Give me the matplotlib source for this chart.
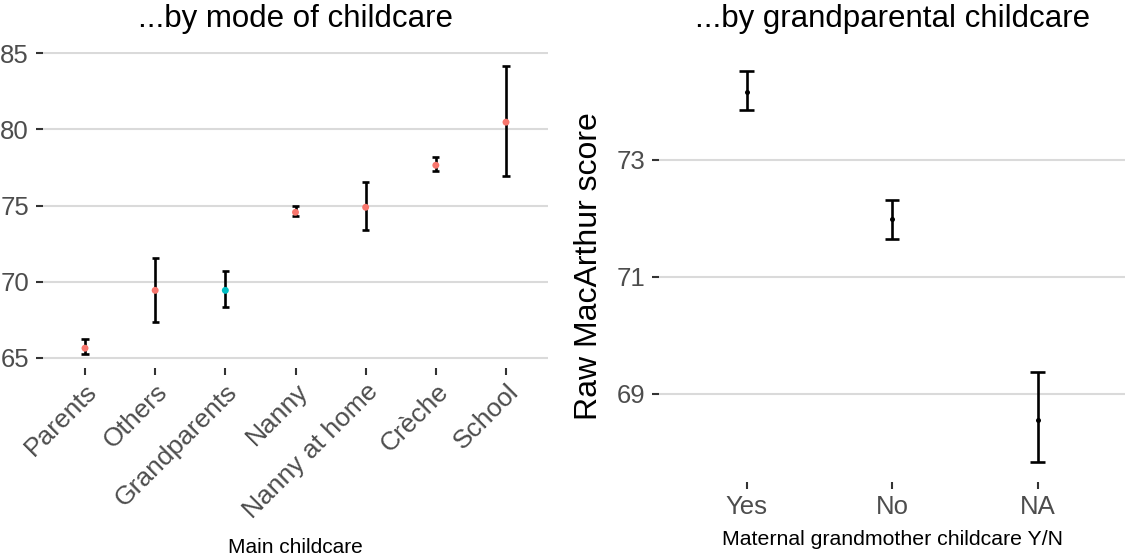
import matplotlib
matplotlib.use('Agg')
import matplotlib.pyplot as plt
import numpy as np

plt.rcParams['font.family'] = ['Liberation Sans', 'DejaVu Sans']

# ---- data: left panel (main childcare) ----
care_modes = ['Parents', 'Others', 'Grandparents', 'Nanny', 'Nanny at home', 'Crèche', 'School']
care_mean = [65.63, 69.43, 69.43, 74.56, 74.89, 77.65, 80.48]
care_low = [65.26, 67.37, 68.31, 74.30, 73.42, 77.30, 76.97]
care_high = [66.22, 71.58, 70.70, 74.97, 76.58, 78.18, 84.16]
care_is_grandparent = [False, False, True, False, False, False, False]
care_yticks = [65, 70, 75, 80, 85]

# ---- data: right panel (maternal grandmother childcare) ----
gm_levels = ['Yes', 'No', 'NA']
gm_mean = [74.17, 71.98, 68.55]
gm_low = [73.85, 71.65, 67.82]
gm_high = [74.53, 72.32, 69.37]
gm_yticks = [69, 71, 73]

RED = '#F8766D'
CYAN = '#00BFC4'
GRID = '#DADADA'
TICKC = '#333333'
LABC = '#4D4D4D'
CAP_W = 0.1  # errorbar cap width in category units

fig = plt.figure(figsize=(11.25, 5.56), dpi=100)
W, H = 1125, 556


def px_axes(l, t, r, b):
    return fig.add_axes([l / W, 1 - b / H, (r - l) / W, (b - t) / H])


ax1 = px_axes(42.9, 51.8, 548.1, 368.2)
ax2 = px_axes(659.4, 51.0, 1125.0, 482.0)


def style(ax, yticks, lo, hi, n):
    pad = 0.05 * (hi - lo)
    ax.set_ylim(lo - pad, hi + pad)
    ax.set_xlim(0.4, n + 0.6)
    ax.set_yticks(yticks)
    ax.set_xticks(np.arange(1, n + 1))
    for s in ax.spines.values():
        s.set_visible(False)
    ax.yaxis.grid(True, color=GRID, lw=1.5)
    ax.xaxis.grid(False)
    ax.set_axisbelow(True)
    ax.tick_params(axis='both', length=5, width=1.5, color=TICKC,
                   labelcolor=LABC, labelsize=18.5)
    ax.tick_params(axis='y', pad=5)


def errbars(ax, x, low, high, lw=1.9):
    ax.vlines(x, low, high, color='black', lw=lw, zorder=2)
    ax.hlines(low, x - CAP_W / 2, x + CAP_W / 2, color='black', lw=lw, zorder=2)
    ax.hlines(high, x - CAP_W / 2, x + CAP_W / 2, color='black', lw=lw, zorder=2)


# left panel
n1 = len(care_modes)
x1 = np.arange(1, n1 + 1)
errbars(ax1, x1, care_low, care_high)
cols = [CYAN if g else RED for g in care_is_grandparent]
ax1.scatter(x1, care_mean, s=25, c=cols, zorder=3, linewidths=0)
style(ax1, care_yticks, min(care_low), max(care_high), n1)
ax1.tick_params(axis='x', pad=3)
ax1.set_xticklabels(care_modes, rotation=45, ha='right', va='top',
                    rotation_mode='anchor', fontsize=19)
ax1.set_title('...by mode of childcare', fontsize=22.5, pad=17.5)
ax1.set_xlabel('Main childcare', fontsize=15)
ax1.xaxis.set_label_coords(0.5, -0.537)

# right panel
n2 = len(gm_levels)
x2 = np.arange(1, n2 + 1)
errbars(ax2, x2, gm_low, gm_high)
ax2.scatter(x2, gm_mean, s=13, c='black', zorder=3, linewidths=0)
style(ax2, gm_yticks, min(gm_low), max(gm_high), n2)
ax2.tick_params(axis='x', pad=4.3)
ax2.set_xticklabels(gm_levels)
ax2.set_title('...by grandparental childcare', fontsize=22.5, pad=17.5)
ax2.set_xlabel('Maternal grandmother childcare Y/N', fontsize=15.3)
ax2.xaxis.set_label_coords(0.5, -0.1125)
ax2.set_ylabel('Raw MacArthur score', fontsize=23)
ax2.yaxis.set_label_coords(-0.1512, 0.5)
ax2.yaxis.label.set(va='center', ha='center')

fig.savefig('out.png', dpi=100, facecolor='white')
